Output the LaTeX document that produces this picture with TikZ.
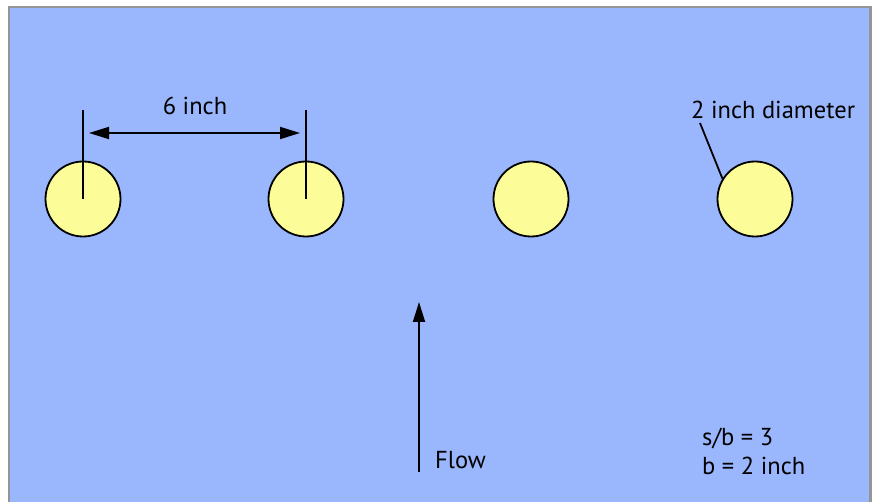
\documentclass[tikz,border=0pt]{standalone}
\usepackage{fontspec}
\setmainfont{PT Sans}
\usetikzlibrary{arrows.meta}
\definecolor{bgblue}{HTML}{9AB6FD}
\definecolor{pin}{HTML}{FCFC98}
\definecolor{frame}{HTML}{959595}
\begin{document}
\begin{tikzpicture}[x=1pt,y=-1pt,
  pinstyle/.style={circle,draw=black,line width=1.8pt,fill=pin,minimum size=75pt,inner sep=0pt},
  lbl/.style={font=\fontsize{24.5}{28}\selectfont,inner sep=0pt},
  ln/.style={line width=1.8pt},
  tip/.tip={Triangle[length=20pt,width=12pt]},
  arr/.style={line width=1.8pt,-tip}]
\useasboundingbox (0,0) rectangle (872,502);
\fill[white] (0,0) rectangle (872,502);
\draw[frame,line width=2.5pt,fill=bgblue] (9,7) rectangle (870.5,510);
\node[pinstyle] (c1) at (83,199) {};
\node[pinstyle] (c2) at (306,199) {};
\node[pinstyle] (c3) at (531,199) {};
\node[pinstyle] (c4) at (755,199) {};
\coordinate (t1) at (83,110);
\coordinate (t2) at (306,110);
\draw[ln] (t1) -- (c1.center);
\draw[ln] (t2) -- (c2.center);
\coordinate (a1) at (89,133);
\coordinate (a2) at (300,133);
\draw[line width=1.8pt,tip-tip] (a1) -- (a2);
\node[lbl] (six) at (195,106) {6 inch};
\node[lbl,anchor=west] (diam) at (691,110) {2 inch diameter};
\coordinate (d1) at (700,123);
\draw[ln] (d1) -- (c4.148);
\coordinate (f1) at (419,472);
\coordinate (f2) at (419,302);
\draw[arr] (f1) -- (f2);
\node[lbl,anchor=west] (flow) at (435,460) {Flow};
\node[lbl,anchor=west] (sb) at (702,438) {s/b = 3};
\node[lbl,anchor=west] (b) at (702,466) {b = 2 inch};
\end{tikzpicture}
\end{document}
